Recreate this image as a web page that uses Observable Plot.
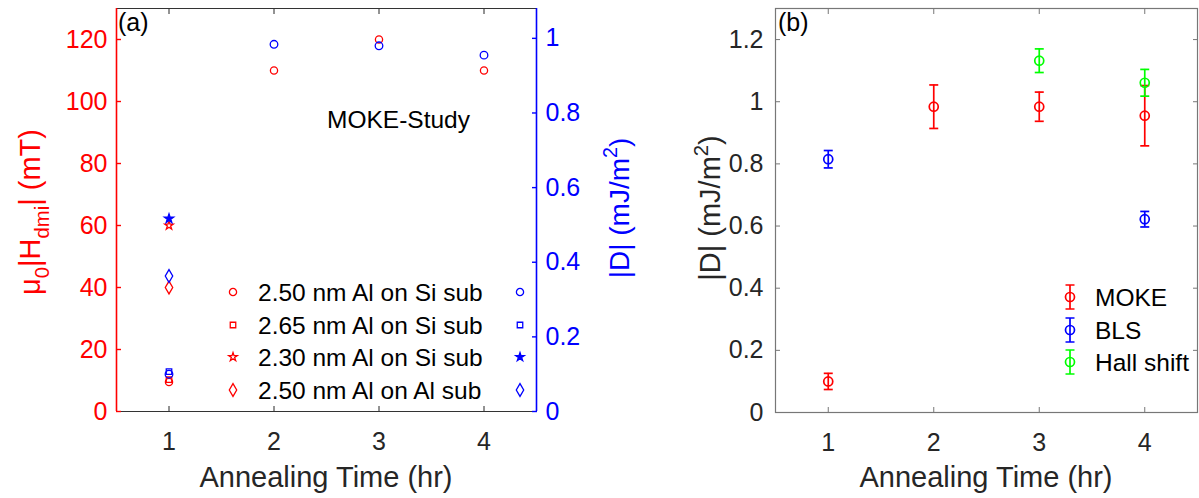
<!DOCTYPE html>
<html>
<head>
<meta charset="utf-8">
<script src="https://cdn.jsdelivr.net/npm/d3@7"></script>
<script src="https://cdn.jsdelivr.net/npm/@observablehq/plot@0.6"></script>
<style>
  html, body { margin: 0; padding: 0; background: #fff; }
  #wrap { position: relative; width: 1199px; height: 498px; overflow: hidden; background: #fff; }
  #wrap > div { position: absolute; top: 0; }
</style>
</head>
<body>
<div id="wrap"><div id="pa" style="left:0px"></div><div id="pb" style="left:640px"></div></div>
<script>
// ---------------- data ----------------
const hours = [1, 2, 3, 4];
const xTicks = [1, 2, 3, 4];
const leftTicks = [0, 20, 40, 60, 80, 100, 120];
const rightTicks = [0, 0.2, 0.4, 0.6, 0.8, 1];
const bTicks = [0, 0.2, 0.4, 0.6, 0.8, 1, 1.2];

// panel (a): red = mu0|Hdmi| (mT), blue = |D| (mJ/m^2)
const seriesA = ["2.50 nm Al on Si sub", "2.65 nm Al on Si sub", "2.30 nm Al on Si sub", "2.50 nm Al on Al sub"];
const hRed250Si = [9.5, 110, 120, 110];
const hRed265Si = [10.3];
const hRed230Si = [60];
const hRed250Al = [40];
const dBlue250Si = [0.10, 0.984, 0.98, 0.955];
const dBlue265Si = [0.107];
const dBlue230Si = [0.517];
const dBlue250Al = [0.363];

// panel (b): |D| (mJ/m^2) with error bars
const methodsB = ["MOKE", "BLS", "Hall shift"];
const mokeHours = [1, 2, 3, 4];
const mokeD   = [0.100, 0.984, 0.984, 0.955];
const mokeErr = [0.026, 0.070, 0.047, 0.097];
const blsHours = [1, 4];
const blsD   = [0.815, 0.622];
const blsErr = [0.028, 0.025];
const hallHours = [3, 4];
const hallD   = [1.132, 1.061];
const hallErr = [0.038, 0.043];

// ---------------- helpers ----------------
const FONT = '"Liberation Sans", Arial, Helvetica, sans-serif';
const RED = "#ff0000", BLUE = "#0000ff", GREEN = "#00ff00", INK = "#262626";
const yMaxA = 130, y2MaxA = 1.08, k = yMaxA / y2MaxA;   // right-axis -> left-axis units
const fmt = d3.format("~g");

function rows(xs, vs, scale = 1) { return xs.slice(0, vs.length).map((h, i) => ({h, v: vs[i] * scale})); }
function rowsErr(xs, vs, es) { return xs.map((h, i) => ({h, v: vs[i], lo: vs[i] - es[i], hi: vs[i] + es[i]})); }

const capSym = {draw(ctx) { ctx.moveTo(-4.5, 0); ctx.lineTo(4.5, 0); }};

function addLabel(svg, x, y, rot, anchor, size, fill, parts) {
  const t = d3.select(svg).append("text")
    .attr("transform", `translate(${x},${y}) rotate(${rot})`)
    .attr("text-anchor", anchor).attr("font-size", size).attr("fill", fill)
    .attr("font-family", FONT);
  let shift = 0;
  for (const [s, kind] of parts) {
    const target = kind === "sub" ? 0.3 * size : kind === "sup" ? -0.42 * size : 0;
    t.append("tspan").attr("dy", target - shift).attr("font-size", kind ? 0.7 * size : size).text(s);
    shift = target;
  }
  return t;
}

// ---------------- panel (a) ----------------
const dotA = (data, symbol, r, color, filled) => Plot.dot(data, {
  x: "h", y: "v", symbol, r, stroke: color, fill: filled ? color : "none", strokeWidth: 1.3
});

const pa = Plot.plot({
  width: 640, height: 498,
  marginLeft: 116, marginRight: 104, marginTop: 8, marginBottom: 87,
  style: {fontFamily: FONT, fontSize: "25px", background: "transparent", color: INK, overflow: "visible"},
  x: {domain: [0.5, 4.5]},
  y: {domain: [0, yMaxA]},
  marks: [
    Plot.ruleY([0, yMaxA], {stroke: "#333", strokeWidth: 1.2}),
    Plot.axisX({anchor: "bottom", ticks: xTicks, tickSize: -5, tickPadding: 26, tickFormat: d => String(d), color: INK, label: null}),
    Plot.axisX({anchor: "top", ticks: xTicks, tickSize: -5, tickFormat: () => "", color: INK, label: null}),
    Plot.axisY({anchor: "left", ticks: leftTicks, tickSize: -5, tickPadding: 14, color: RED, label: null, strokeWidth: 1.4}),
    Plot.axisY({anchor: "right", ticks: rightTicks.map(v => v * k), tickSize: -5, tickPadding: 14,
                tickFormat: d => fmt(+(d / k).toFixed(4)), color: BLUE, label: null, strokeWidth: 1.4}),
    Plot.ruleX([0.5], {stroke: RED, strokeWidth: 1.6}),
    Plot.ruleX([4.5], {stroke: BLUE, strokeWidth: 1.6}),
    dotA(rows(hours, hRed250Si), "circle", 3.6, RED),
    dotA(rows(hours, hRed265Si), "square", 3.1, RED),
    dotA(rows(hours, hRed230Si), "star", 2.7, RED),
    dotA(rows(hours, hRed250Al), "diamond", 3.9, RED),
    dotA(rows(hours, dBlue250Si, k), "circle", 3.8, BLUE),
    dotA(rows(hours, dBlue265Si, k), "square", 3.1, BLUE),
    dotA(rows(hours, dBlue230Si, k), "star", 2.9, BLUE, true),
    dotA(rows(hours, dBlue250Al, k), "diamond", 3.9, BLUE)
  ]
});
document.getElementById("pa").appendChild(pa);

addLabel(pa, 118, 31, 0, "start", 25, "#000", [["(a)", ""]]);
addLabel(pa, 327, 128, 0, "start", 24.5, "#000", [["MOKE-Study", ""]]);
addLabel(pa, 326, 487, 0, "middle", 29, INK, [["Annealing Time (hr)", ""]]);
addLabel(pa, 40, 212, -90, "middle", 29, RED,
  [["μ", ""], ["0", "sub"], ["|H", ""], ["dmi", "sub"], ["| (mT)", ""]]);
addLabel(pa, 629, 208, -90, "middle", 28, BLUE,
  [["|D| (mJ/m", ""], ["2", "sup"], [")", ""]]);

// legend (a)
{
  const g = d3.select(pa).append("g").attr("font-family", FONT).attr("font-size", 24.5)
    .attr("text-anchor", "start");
  const syms = [d3.symbolCircle, d3.symbolSquare, d3.symbolStar, d3.symbolDiamond];
  const rr = [3.6, 3.1, 2.7, 3.9];
  const ys = [292, 325, 357, 390];
  seriesA.forEach((name, i) => {
    const path = d3.symbol(syms[i], Math.PI * rr[i] * rr[i])();
    g.append("path").attr("d", path).attr("transform", `translate(233,${ys[i]})`)
      .attr("fill", "none").attr("stroke", RED).attr("stroke-width", 1.3);
    g.append("path").attr("d", path).attr("transform", `translate(520,${ys[i]})`)
      .attr("fill", i === 2 ? BLUE : "none").attr("stroke", BLUE).attr("stroke-width", 1.3);
    g.append("text").attr("x", 258).attr("y", ys[i]).attr("dy", "0.36em").attr("fill", "#000")
      .attr("text-anchor", "start").text(name);
  });
}

// ---------------- panel (b) ----------------
const errMarks = (data, color) => [
  Plot.ruleX(data, {x: "h", y1: "lo", y2: "hi", stroke: color, strokeWidth: 1.7}),
  Plot.dot(data, {x: "h", y: "lo", symbol: capSym, r: 2, stroke: color, strokeWidth: 1.7, fill: "none"}),
  Plot.dot(data, {x: "h", y: "hi", symbol: capSym, r: 2, stroke: color, strokeWidth: 1.7, fill: "none"}),
  Plot.dot(data, {x: "h", y: "v", r: 4.5, stroke: color, strokeWidth: 1.7, fill: "none"})
];

const pb = Plot.plot({
  width: 559, height: 498,
  marginLeft: 135, marginRight: 2, marginTop: 8, marginBottom: 86,
  style: {fontFamily: FONT, fontSize: "25px", background: "transparent", color: INK, overflow: "visible"},
  x: {domain: [0.5, 4.5]},
  y: {domain: [0, 1.3]},
  marks: [
    Plot.frame({stroke: "#777", strokeWidth: 1.2}),
    Plot.axisX({anchor: "bottom", ticks: xTicks, tickSize: -5, tickPadding: 26, tickFormat: d => String(d), color: INK, stroke: "#777", label: null}),
    Plot.axisX({anchor: "top", ticks: xTicks, tickSize: -5, tickFormat: () => "", stroke: "#777", label: null}),
    Plot.axisY({anchor: "left", ticks: bTicks, tickSize: -5, tickPadding: 17, tickFormat: fmt, color: INK, stroke: "#777", label: null}),
    Plot.axisY({anchor: "right", ticks: bTicks, tickSize: -5, tickFormat: () => "", stroke: "#777", label: null}),
    ...errMarks(rowsErr(mokeHours, mokeD, mokeErr), RED),
    ...errMarks(rowsErr(blsHours, blsD, blsErr), BLUE),
    ...errMarks(rowsErr(hallHours, hallD, hallErr), GREEN)
  ]
});
document.getElementById("pb").appendChild(pb);

addLabel(pb, 138, 31, 0, "start", 25, "#000", [["(b)", ""]]);
addLabel(pb, 346, 487, 0, "middle", 29, INK, [["Annealing Time (hr)", ""]]);
addLabel(pb, 80, 208, -90, "middle", 29, INK, [["|D| (mJ/m", ""], ["2", "sup"], [")", ""]]);

// legend (b)
{
  const g = d3.select(pb).append("g").attr("font-family", FONT).attr("font-size", 24.5)
    .attr("text-anchor", "start");
  const cols = [RED, BLUE, GREEN];
  const ys = [297, 330, 362];
  methodsB.forEach((name, i) => {
    const c = cols[i], x = 430, y = ys[i];
    g.append("path").attr("d", `M${x},${y - 12}V${y + 12}M${x - 4.5},${y - 12}H${x + 4.5}M${x - 4.5},${y + 12}H${x + 4.5}`)
      .attr("stroke", c).attr("stroke-width", 1.7).attr("fill", "none");
    g.append("circle").attr("cx", x).attr("cy", y).attr("r", 4.5)
      .attr("stroke", c).attr("stroke-width", 1.7).attr("fill", "none");
    g.append("text").attr("x", 455).attr("y", y).attr("dy", "0.36em").attr("fill", "#000")
      .attr("text-anchor", "start").text(name);
  });
}
</script>
</body>
</html>
